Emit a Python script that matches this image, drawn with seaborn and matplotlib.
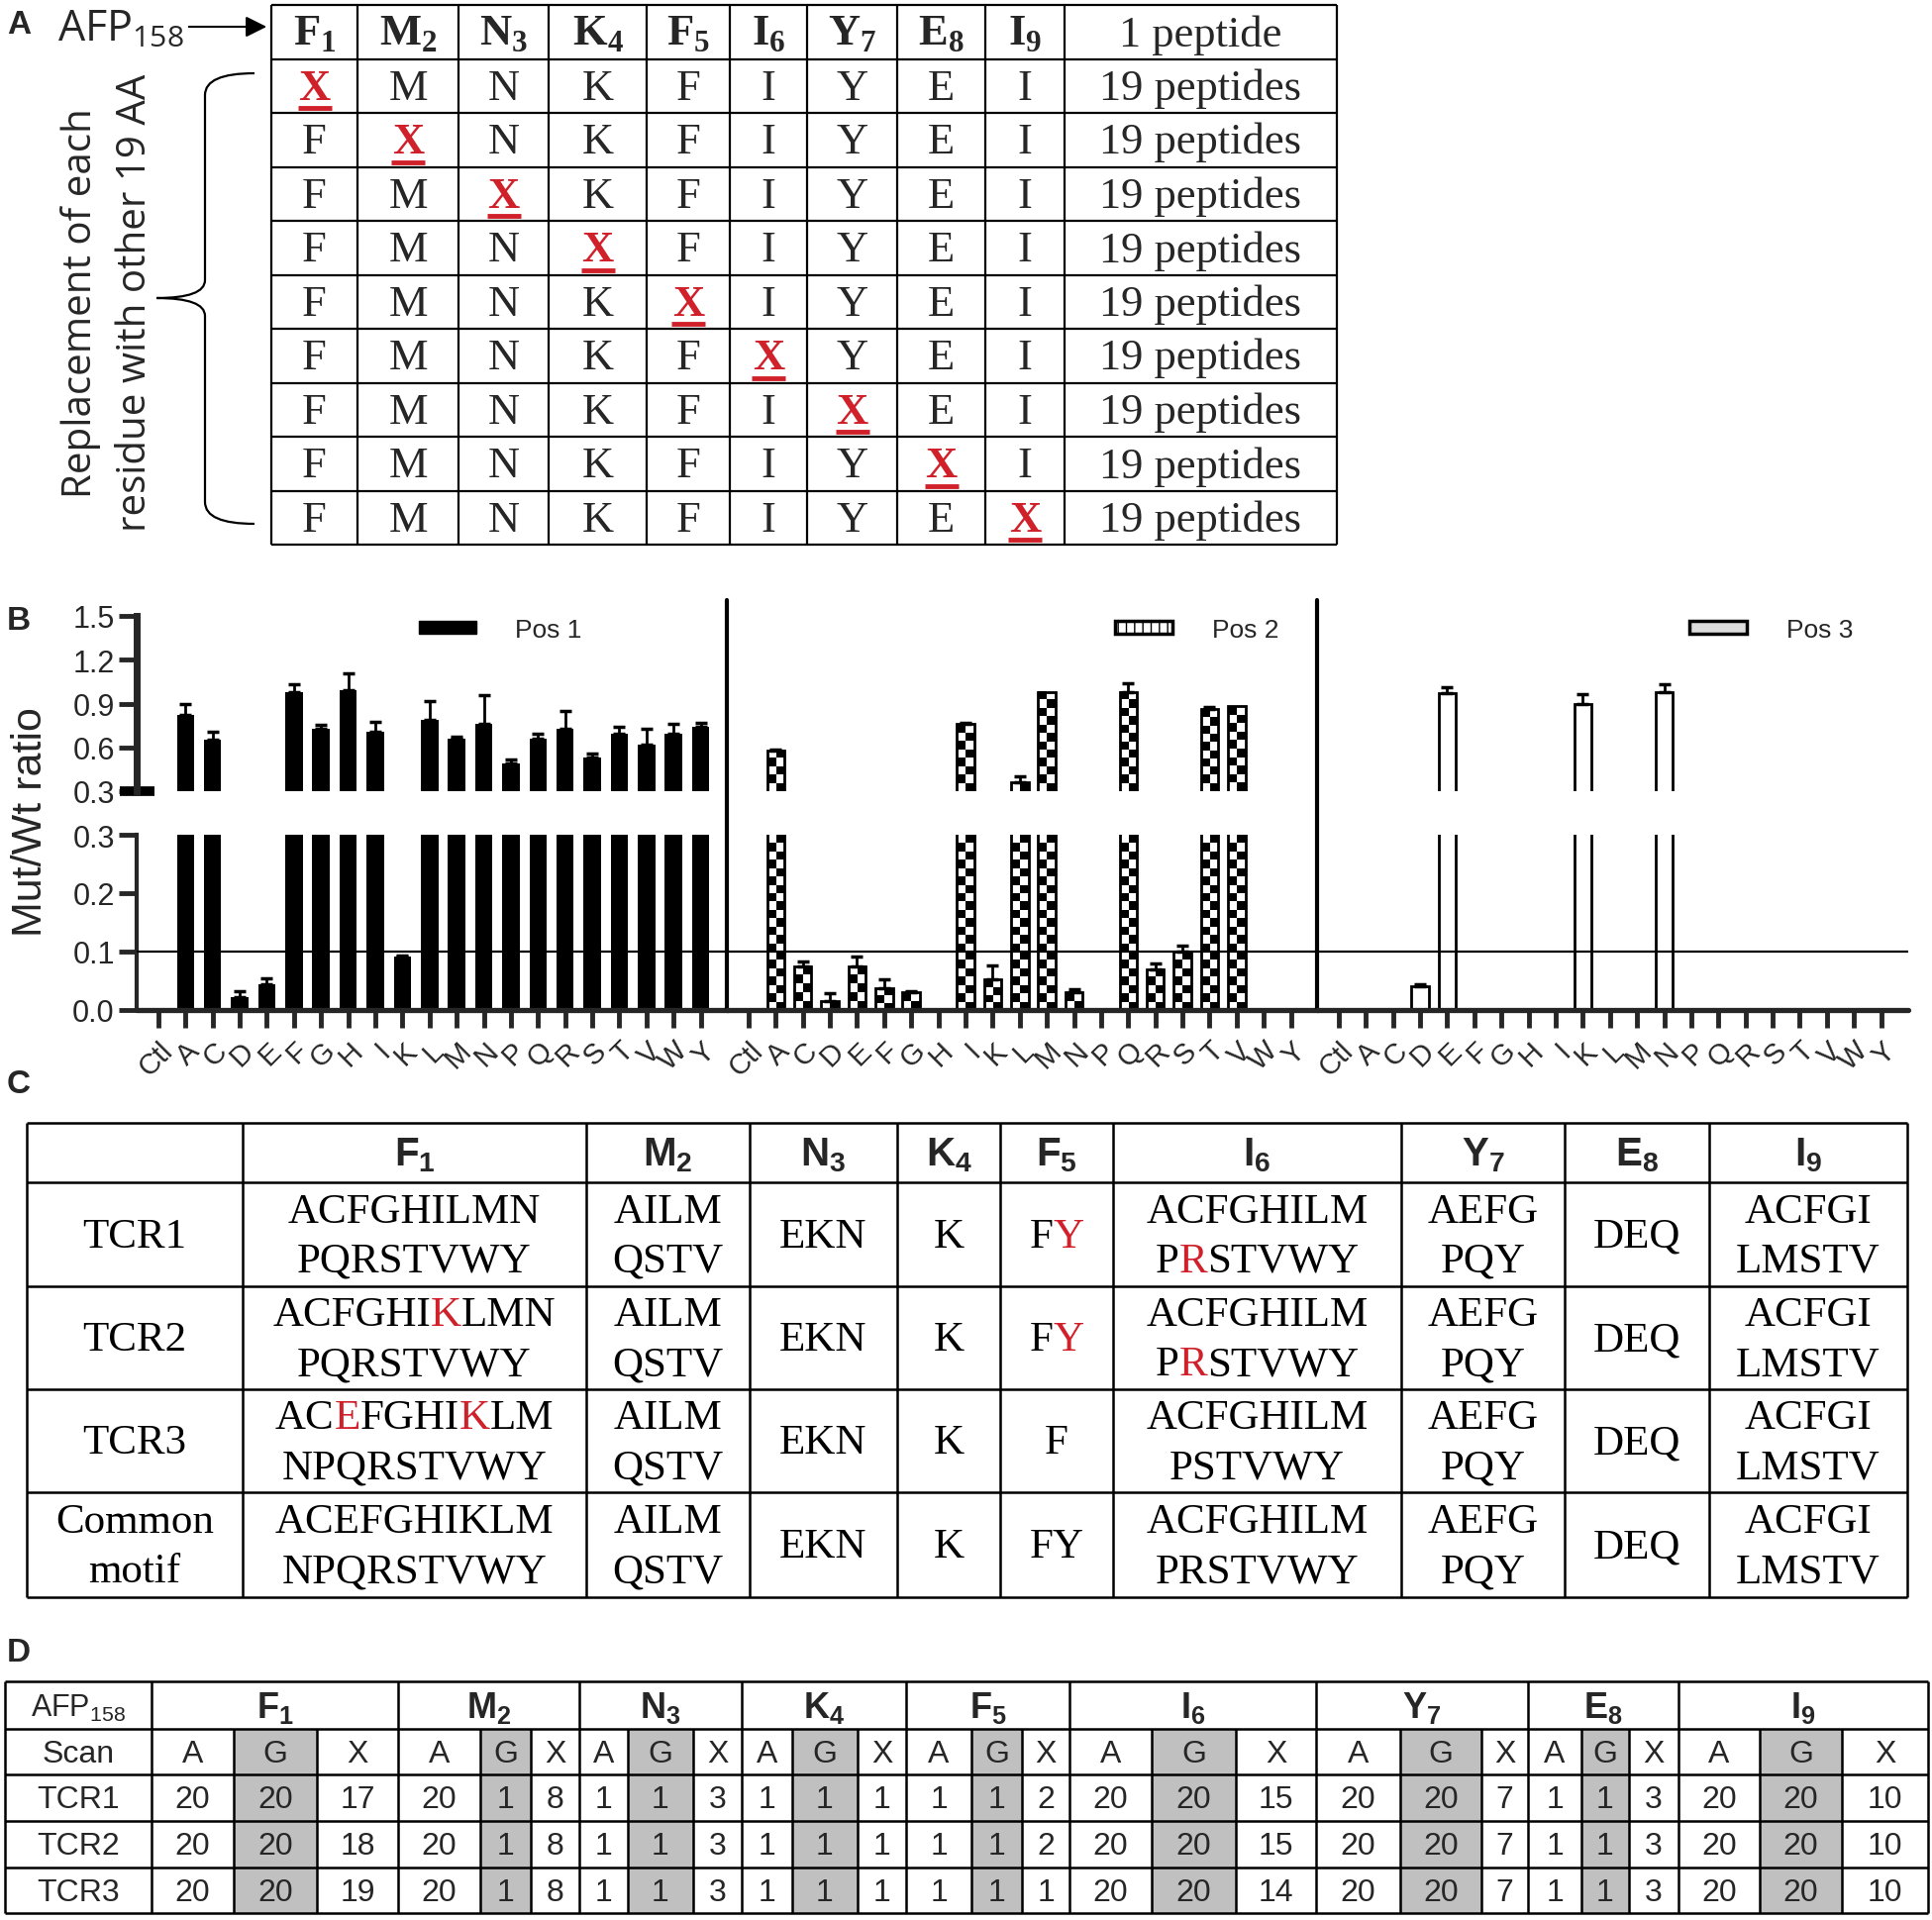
import numpy as np
import seaborn as sns
import matplotlib.pyplot as plt
from matplotlib import font_manager
from matplotlib.path import Path
from matplotlib.patches import PathPatch, Patch
from matplotlib.offsetbox import TextArea, HPacker, AnnotationBbox

# ---------------- data ----------------
AFP_SEQ = ['F', 'M', 'N', 'K', 'F', 'I', 'Y', 'E', 'I']
MUT_MARK = 'X'
A_WT_COUNT = '1 peptide'
A_MUT_COUNT = '19 peptides'

AA = ['Ctl', 'A', 'C', 'D', 'E', 'F', 'G', 'H', 'I', 'K', 'L',
      'M', 'N', 'P', 'Q', 'R', 'S', 'T', 'V', 'W', 'Y']
POS1_MEAN = [0, 0.82, 0.65, 0.022, 0.044, 0.98, 0.73, 0.99, 0.71, 0.091, 0.79,
             0.66, 0.76, 0.49, 0.66, 0.73, 0.53, 0.69, 0.62, 0.69, 0.74]
POS1_ERR = [0, 0.08, 0.055, 0.01, 0.011, 0.055, 0.025, 0.12, 0.065, 0.002, 0.125,
            0.014, 0.2, 0.03, 0.03, 0.12, 0.025, 0.05, 0.105, 0.07, 0.025]
POS2_MEAN = [0, 0.58, 0.075, 0.015, 0.075, 0.037, 0.03, 0, 0.76, 0.052, 0.36,
             0.98, 0.03, 0, 0.98, 0.07, 0.10, 0.86, 0.88, 0, 0]
POS2_ERR = [0, 0.007, 0.008, 0.013, 0.017, 0.015, 0.003, 0, 0.01, 0.024, 0.045,
            0, 0.005, 0, 0.06, 0.01, 0.01, 0.015, 0, 0, 0]
POS3_MEAN = [0, 0, 0, 0.041, 0.97, 0, 0, 0, 0, 0.90, 0,
             0, 0.98, 0, 0, 0, 0, 0, 0, 0, 0]
POS3_ERR = [0, 0, 0, 0.003, 0.04, 0, 0, 0, 0, 0.065, 0,
            0, 0.05, 0, 0, 0, 0, 0, 0, 0, 0]
POS_LABELS = ['Pos 1', 'Pos 2', 'Pos 3']
UPPER_TICKS = [0.3, 0.6, 0.9, 1.2, 1.5]
LOWER_TICKS = [0.0, 0.1, 0.2, 0.3]
CUTOFF = 0.1

C_ROW_LABELS = ['TCR1', 'TCR2', 'TCR3', 'Common\nmotif']
# {x} marks a residue printed in red
C_TCR1 = ['ACFGHILMN\nPQRSTVWY', 'AILM\nQSTV', 'EKN', 'K', 'F{Y}',
          'ACFGHILM\nP{R}STVWY', 'AEFG\nPQY', 'DEQ', 'ACFGI\nLMSTV']
C_TCR2 = ['ACFGHI{K}LMN\nPQRSTVWY', 'AILM\nQSTV', 'EKN', 'K', 'F{Y}',
          'ACFGHILM\nP{R}STVWY', 'AEFG\nPQY', 'DEQ', 'ACFGI\nLMSTV']
C_TCR3 = ['AC{E}FGHI{K}LM\nNPQRSTVWY', 'AILM\nQSTV', 'EKN', 'K', 'F',
          'ACFGHILM\nPSTVWY', 'AEFG\nPQY', 'DEQ', 'ACFGI\nLMSTV']
C_COMMON = ['ACEFGHIKLM\nNPQRSTVWY', 'AILM\nQSTV', 'EKN', 'K', 'FY',
            'ACFGHILM\nPRSTVWY', 'AEFG\nPQY', 'DEQ', 'ACFGI\nLMSTV']

D_SCAN = ['A', 'G', 'X']
D_ROW_LABELS = ['TCR1', 'TCR2', 'TCR3']
D_TCR1 = [20, 20, 17, 20, 1, 8, 1, 1, 3, 1, 1, 1, 1, 1, 2, 20, 20, 15, 20, 20, 7, 1, 1, 3, 20, 20, 10]
D_TCR2 = [20, 20, 18, 20, 1, 8, 1, 1, 3, 1, 1, 1, 1, 1, 2, 20, 20, 15, 20, 20, 7, 1, 1, 3, 20, 20, 10]
D_TCR3 = [20, 20, 19, 20, 1, 8, 1, 1, 3, 1, 1, 1, 1, 1, 1, 20, 20, 14, 20, 20, 7, 1, 1, 3, 20, 20, 10]

# ---------------- style ----------------
sns.set_style('ticks')
names = {f.name for f in font_manager.fontManager.ttflist}
SANS = ['Liberation Sans', 'DejaVu Sans']
NARROW = (['Liberation Sans Narrow'] if 'Liberation Sans Narrow' in names else []) + SANS
SERIF = ['Liberation Serif', 'DejaVu Serif']
OPEN = ['Open Sans', 'DejaVu Sans']
plt.rcParams['font.family'] = SANS
RED = '#d0212b'
GREY = '#c0c0c0'

W, H = 1951, 1940
fig = plt.figure(figsize=(W / 100, H / 100), dpi=100)
bg = fig.add_axes([0, 0, 1, 1])
bg.set_xlim(0, W)
bg.set_ylim(H, 0)
bg.axis('off')


def px_rect(x0, y0, x1, y1):
    return [x0 / W, 1 - y1 / H, (x1 - x0) / W, (y1 - y0) / H]


def sub(main, s):
    return main + r'$_\mathregular{' + str(s) + '}$'


def rich_segments(line):
    segs, buf = [], ''
    for ch in line:
        if ch == '{':
            if buf:
                segs.append((buf, 'black'))
            buf = ''
        elif ch == '}':
            segs.append((buf, RED))
            buf = ''
        else:
            buf += ch
    if buf:
        segs.append((buf, 'black'))
    return segs


def cell(cx, cy, text, size, family, gap=50, **kw):
    lines = text.split('\n')
    n = len(lines)
    for k, line in enumerate(lines):
        y = cy + (k - (n - 1) / 2) * gap
        segs = rich_segments(line)
        if len(segs) == 1:
            bg.text(cx, y, segs[0][0], color=segs[0][1], ha='center', va='center',
                    fontsize=size, family=family, **kw)
        else:
            boxes = [TextArea(s, textprops=dict(color=c, fontsize=size, family=family))
                     for s, c in segs]
            pack = HPacker(children=boxes, pad=0, sep=0, align='baseline')
            bg.add_artist(AnnotationBbox(pack, (cx, y), xycoords='data', frameon=False,
                                         box_alignment=(0.5, 0.5), pad=0))


def panel_label(x, y, s):
    bg.text(x, y, s, fontsize=24, fontweight='bold', family=SANS, ha='left', va='center')


# ---------------- panel A ----------------
panel_label(7, 25, 'A')
A_COLS = [274, 361, 463, 554, 653, 737, 815, 906, 995, 1075, 1350]
A_ROWS = np.linspace(6, 551, 11)
bg.hlines(A_ROWS, A_COLS[0], A_COLS[-1], color='black', lw=1.6)
bg.vlines(A_COLS, A_ROWS[0], A_ROWS[-1], color='black', lw=1.6)
a_cx = [(A_COLS[j] + A_COLS[j + 1]) / 2 for j in range(10)]
a_cy = [(A_ROWS[i] + A_ROWS[i + 1]) / 2 + 2 for i in range(10)]
for j, aa in enumerate(AFP_SEQ):
    bg.text(a_cx[j], a_cy[0], sub(aa, j + 1), fontsize=32, fontweight='bold',
            family=SERIF, ha='center', va='center')
bg.text(a_cx[9], a_cy[0], A_WT_COUNT, fontsize=32, family=SERIF, ha='center', va='center')
for i in range(9):
    for j, aa in enumerate(AFP_SEQ):
        if i == j:
            bg.text(a_cx[j], a_cy[i + 1], MUT_MARK, fontsize=32, fontweight='bold',
                    color=RED, family=SERIF, ha='center', va='center')
            bg.plot([a_cx[j] - 17, a_cx[j] + 17], [A_ROWS[i + 2] - 5] * 2, color=RED,
                    lw=3.5, solid_capstyle='butt')
        else:
            bg.text(a_cx[j], a_cy[i + 1], aa, fontsize=32, family=SERIF,
                    ha='center', va='center')
    bg.text(a_cx[9], a_cy[i + 1], A_MUT_COUNT, fontsize=32, family=SERIF,
            ha='center', va='center')

bg.text(58, 30, sub('AFP', 158), fontsize=31, family=OPEN, ha='left', va='center')
bg.annotate('', xy=(272, 28), xytext=(188, 28),
            arrowprops=dict(arrowstyle='-|>', mutation_scale=32, lw=1.5, color='black'))
bg.text(82, 306, 'Replacement of each', rotation=90, fontsize=29, family=OPEN,
        ha='center', va='center')
bg.text(137, 306, 'residue with other 19 AA', rotation=90, fontsize=29, family=OPEN,
        ha='center', va='center')
brace = Path([(257, 75), (207, 75), (207, 97), (207, 284), (207, 302), (158, 302),
              (207, 302), (207, 320), (207, 508), (207, 530), (257, 530)],
             [Path.MOVETO, Path.CURVE3, Path.CURVE3, Path.LINETO, Path.CURVE3, Path.CURVE3,
              Path.CURVE3, Path.CURVE3, Path.LINETO, Path.CURVE3, Path.CURVE3])
bg.add_patch(PathPatch(brace, fill=False, lw=1.6, color='black'))

# ---------------- panel B ----------------
panel_label(7, 628, 'B')
B_LEFT = [138, 734, 1330]
B_W = 597
XLIM = (-0.8, 21.0)
UP_Y, LO_Y = (623, 800), (844, 1021)
means = [POS1_MEAN, POS2_MEAN, POS3_MEAN]
errs = [POS1_ERR, POS2_ERR, POS3_ERR]


def checker(ax, patches, cell_px=8.5):
    lo, hi = ax.get_ylim()
    for p in patches:
        x0, w = p.get_x(), p.get_width()
        y0, y1 = p.get_y(), p.get_y() + p.get_height()
        ya, yb = max(y0, lo), min(y1, hi)
        if yb - ya <= 0:
            continue
        pa, pb = ax.transData.transform([(x0, ya), (x0, yb)])[:, 1]
        n = max(1, int(round(abs(pb - pa) / cell_px)))
        img = np.indices((n, 2)).sum(axis=0) % 2
        ax.imshow(img, cmap='binary', vmin=0, vmax=1, extent=(x0, x0 + w, ya, yb),
                  origin='lower', aspect='auto', interpolation='nearest', zorder=0.5,
                  clip_path=p)


for k in range(3):
    ax_up = fig.add_axes(px_rect(B_LEFT[k], UP_Y[0], B_LEFT[k] + B_W, UP_Y[1]))
    ax_lo = fig.add_axes(px_rect(B_LEFT[k], LO_Y[0], B_LEFT[k] + B_W, LO_Y[1]))
    for ax, ylim in ((ax_up, (0.3, 1.5)), (ax_lo, (0, 0.3))):
        ax.set_facecolor('none')
        face = ['black', 'white', 'white'][k]
        sns.barplot(x=AA, y=means[k], ax=ax, color=face, saturation=1, width=0.64,
                    edgecolor='black', linewidth=0 if k == 0 else 2.0, errorbar=None)
        ax.set_xlim(*XLIM)
        ax.set_ylim(*ylim)
        if k == 1:
            bars = list(ax.patches)
            for p in bars:
                p.set_facecolor('none')
            checker(ax, bars)
            ax.set_xlim(*XLIM)
            ax.set_ylim(*ylim)
        idx = [i for i, e in enumerate(errs[k]) if e > 0]
        ax.errorbar(idx, [means[k][i] for i in idx],
                    yerr=[[0] * len(idx), [errs[k][i] for i in idx]],
                    fmt='none', ecolor='black', elinewidth=2, capsize=4, capthick=2.5,
                    zorder=4)
        ax.set_xlabel('')
        ax.set_ylabel('')
        for s in ('top', 'right'):
            ax.spines[s].set_visible(False)

    ax_lo.axhline(CUTOFF, color='black', lw=1.6, zorder=5)
    ax_up.spines['bottom'].set_visible(False)
    ax_up.tick_params(axis='x', bottom=False, labelbottom=False)
    ax_lo.spines['bottom'].set_linewidth(3.8)
    ax_lo.spines['bottom'].set_capstyle('round')
    ax_lo.set_xticks(range(len(AA)))
    ax_lo.set_xticklabels(AA, rotation=45, ha='right', va='top', rotation_mode='anchor',
                          fontsize=21, family=SANS)
    ax_lo.tick_params(axis='x', length=13, width=3.5, pad=6)
    if k == 0:
        ax_up.spines['left'].set_linewidth(5)
        ax_lo.spines['left'].set_linewidth(3)
        ax_up.set_yticks(UPPER_TICKS)
        ax_up.set_yticklabels([f'{v:.1f}' for v in UPPER_TICKS], fontsize=22)
        ax_lo.set_yticks(LOWER_TICKS)
        ax_lo.set_yticklabels([f'{v:.1f}' for v in LOWER_TICKS], fontsize=22)
        ax_up.tick_params(axis='y', length=13, width=3.5, pad=3)
        ax_lo.tick_params(axis='y', length=13, width=3.5, pad=3)
        # thick break mark at the bottom of the upper segment
        ax_up.plot([-0.028, 0.03], [0, 0], transform=ax_up.transAxes, color='black',
                   lw=7, clip_on=False, solid_capstyle='butt')
    else:
        for ax in (ax_up, ax_lo):
            ax.spines['left'].set_visible(False)
            ax.tick_params(axis='y', left=False, labelleft=False)
        ax_up.axvline(XLIM[0], ymin=(UP_Y[1] - LO_Y[1]) / (UP_Y[1] - UP_Y[0]),
                      ymax=(UP_Y[1] - 607) / (UP_Y[1] - UP_Y[0]), color='black', lw=3,
                      clip_on=False, solid_capstyle='round')
    handle = [Patch(facecolor='black', edgecolor='black'),
              Patch(facecolor='white', edgecolor='black', hatch='||', lw=2.5),
              Patch(facecolor='#dddddd', edgecolor='black', lw=2.5)][k]
    ax_up.legend([handle], [POS_LABELS[k]], loc='center left',
                 bbox_to_anchor=([0.477, 0.657, 0.63][k], 0.92), frameon=False,
                 prop=dict(family=SANS, size=19), handlelength=2.2, handleheight=0.35,
                 handletextpad=1.5, borderpad=0, borderaxespad=0)

bg.text(31, 830, 'Mut/Wt ratio', rotation=90, fontsize=31, family=SANS,
        ha='center', va='center')

# ---------------- panel C ----------------
panel_label(7, 1096, 'C')
C_COLS = [27, 245, 592, 757, 906, 1010, 1124, 1415, 1580, 1726, 1926]
C_ROWS = [1135, 1195, 1300, 1404, 1508, 1614]
bg.hlines(C_ROWS, C_COLS[0], C_COLS[-1], color='black', lw=1.8)
bg.vlines(C_COLS, C_ROWS[0], C_ROWS[-1], color='black', lw=1.8)
c_cx = [(C_COLS[j] + C_COLS[j + 1]) / 2 for j in range(10)]
c_cy = [(C_ROWS[i] + C_ROWS[i + 1]) / 2 + 2 for i in range(5)]
for j, aa in enumerate(AFP_SEQ):
    bg.text(c_cx[j + 1], c_cy[0], sub(aa, j + 1), fontsize=29, fontweight='bold',
            family=SANS, ha='center', va='center')
for i, (lab, row) in enumerate(zip(C_ROW_LABELS, [C_TCR1, C_TCR2, C_TCR3, C_COMMON])):
    cell(c_cx[0], c_cy[i + 1], lab, 31, SERIF)
    for j, txt in enumerate(row):
        cell(c_cx[j + 1], c_cy[i + 1], txt, 31, SERIF)

# ---------------- panel D ----------------
panel_label(7, 1670, 'D')
D_LEFT = 5
D_GROUP = [153, 402, 585, 749, 915, 1080, 1329, 1543, 1695, 1947]
D_INNER = [(236, 320), (485, 536), (634, 700), (800, 866), (981, 1032),
           (1163, 1248), (1414, 1496), (1597, 1645), (1777, 1860)]
D_ROWS = [1699, 1747, 1793, 1840, 1887, 1933]
for g in range(9):
    bg.fill_between([D_INNER[g][0], D_INNER[g][1]], D_ROWS[1], D_ROWS[-1],
                    color=GREY, lw=0)
bg.hlines(D_ROWS, D_LEFT, D_GROUP[-1], color='black', lw=1.8)
bg.vlines([D_LEFT] + D_GROUP, D_ROWS[0], D_ROWS[-1], color='black', lw=1.8)
inner = [x for pair in D_INNER for x in pair]
bg.vlines(inner, D_ROWS[1], D_ROWS[-1], color='black', lw=1.8)
d_cy = [(D_ROWS[i] + D_ROWS[i + 1]) / 2 + 2 for i in range(5)]
bg.text((D_LEFT + D_GROUP[0]) / 2, d_cy[0], sub('AFP', 158), fontsize=22, family=NARROW,
        ha='center', va='center')
bg.text((D_LEFT + D_GROUP[0]) / 2, d_cy[1], 'Scan', fontsize=23, family=NARROW,
        ha='center', va='center')
for i, lab in enumerate(D_ROW_LABELS):
    bg.text((D_LEFT + D_GROUP[0]) / 2, d_cy[i + 2], lab, fontsize=23, family=NARROW,
            ha='center', va='center')
for g, aa in enumerate(AFP_SEQ):
    edges = [D_GROUP[g], D_INNER[g][0], D_INNER[g][1], D_GROUP[g + 1]]
    bg.text((edges[0] + edges[3]) / 2, d_cy[0], sub(aa, g + 1), fontsize=26,
            fontweight='bold', family=NARROW, ha='center', va='center')
    for c in range(3):
        cx = (edges[c] + edges[c + 1]) / 2
        bg.text(cx, d_cy[1], D_SCAN[c], fontsize=23, family=NARROW, ha='center', va='center')
        for r, vals in enumerate([D_TCR1, D_TCR2, D_TCR3]):
            bg.text(cx, d_cy[r + 2], str(vals[3 * g + c]), fontsize=23, family=NARROW,
                    ha='center', va='center')

fig.savefig('out.png', dpi=100)
